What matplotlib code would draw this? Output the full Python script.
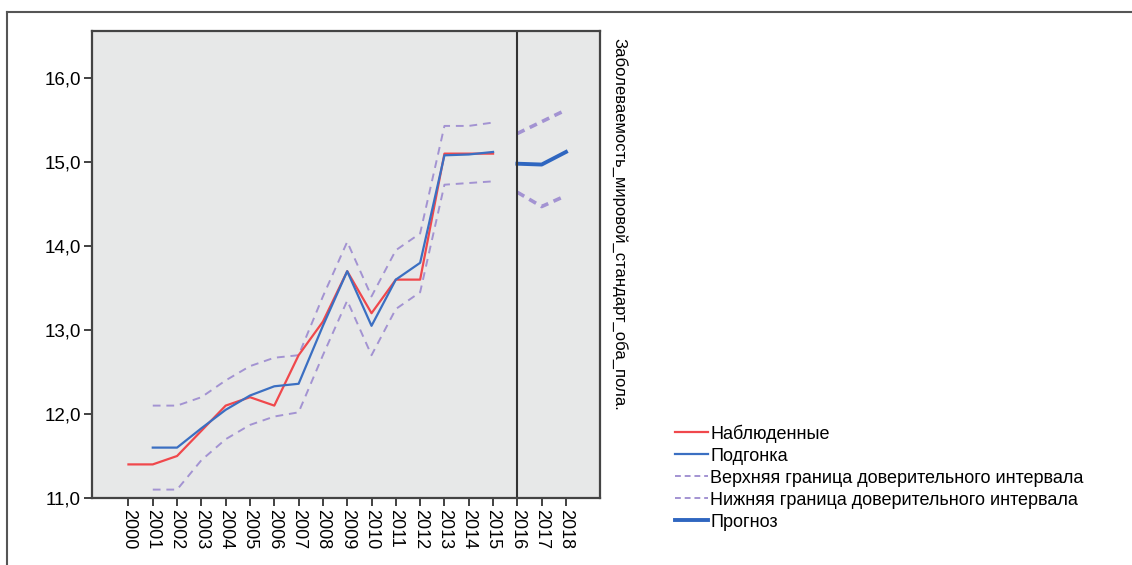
import matplotlib.pyplot as plt
from matplotlib.lines import Line2D

plt.rcParams['font.family'] = ['Liberation Sans', 'DejaVu Sans']

# годы наблюдений
years_obs = [2000, 2001, 2002, 2003, 2004, 2005, 2006, 2007, 2008,
             2009, 2010, 2011, 2012, 2013, 2014, 2015]
observed = [11.4, 11.4, 11.5, 11.8, 12.1, 12.2, 12.1, 12.7, 13.1,
            13.7, 13.2, 13.6, 13.6, 15.1, 15.1, 15.1]

# подгонка и доверительный интервал (2001-2015)
years_fit = [2001, 2002, 2003, 2004, 2005, 2006, 2007, 2008,
             2009, 2010, 2011, 2012, 2013, 2014, 2015]
fitted = [11.6, 11.6, 11.83, 12.05, 12.22, 12.33, 12.36, 13.05,
          13.7, 13.05, 13.6, 13.8, 15.08, 15.09, 15.12]
upper_fit = [12.1, 12.1, 12.2, 12.4, 12.57, 12.67, 12.7, 13.4,
             14.05, 13.4, 13.95, 14.15, 15.43, 15.43, 15.47]
lower_fit = [11.1, 11.1, 11.45, 11.7, 11.87, 11.97, 12.02, 12.7,
             13.35, 12.7, 13.25, 13.45, 14.73, 14.75, 14.77]

# прогноз
years_fc = [2016, 2017, 2018]
forecast = [14.98, 14.97, 15.12]
upper_fc = [15.34, 15.48, 15.62]
lower_fc = [14.64, 14.47, 14.6]

tick_years = list(range(2000, 2019))
y_ticks = [11.0, 12.0, 13.0, 14.0, 15.0, 16.0]

c_obs = '#f0484c'
c_fit = '#3b6fc2'
c_ci = '#a393d2'
c_fc = '#2f66c0'

fig = plt.figure(figsize=(11.32, 5.65), dpi=100)
ax = fig.add_axes([92/1132, 1 - 498/565, 508/1132, 467/565])
ax.set_facecolor('#e7e8e8')

ax.plot(years_fit, upper_fit, color=c_ci, lw=1.4, ls=(0, (4, 3)))
ax.plot(years_fit, lower_fit, color=c_ci, lw=1.4, ls=(0, (4, 3)))
ax.plot(years_obs, observed, color=c_obs, lw=1.6)
ax.plot(years_fit, fitted, color=c_fit, lw=1.6)

ax.plot(years_fc, upper_fc, color=c_ci, lw=2.6, ls=(0, (2.2, 1.6)))
ax.plot(years_fc, lower_fc, color=c_ci, lw=2.6, ls=(0, (2.2, 1.6)))
ax.plot(years_fc, forecast, color=c_fc, lw=2.8)

ax.axvline(2016, color='#333333', lw=1.5)

ax.set_xlim(1998.5, 2019.4)
ax.set_ylim(11.0, 16.56)
ax.set_xticks(tick_years)
ax.set_xticklabels([str(y) for y in tick_years], rotation=270, fontsize=13)
ax.set_yticks(y_ticks)
ax.set_yticklabels([f'{v:.1f}'.replace('.', ',') for v in y_ticks], fontsize=13.5)
ax.tick_params(direction='out', length=6, width=1.3, color='#333333', pad=2)

for s in ax.spines.values():
    s.set_color('#444444')
    s.set_linewidth(1.6)

ax.yaxis.set_label_position('right')
ax.set_ylabel('Заболеваемость_мировой_стандарт_оба_пола.', rotation=270,
              fontsize=12, labelpad=8, va='bottom')
ax.yaxis.label.set_position((1, 0.585))

handles = [
    Line2D([], [], color=c_obs, lw=1.6),
    Line2D([], [], color=c_fit, lw=1.6),
    Line2D([], [], color=c_ci, lw=1.4, ls=(0, (3, 2))),
    Line2D([], [], color=c_ci, lw=1.4, ls=(0, (3, 2))),
    Line2D([], [], color=c_fc, lw=2.8),
]
labels = ['Наблюденные', 'Подгонка', 'Верхняя граница доверительного интервала',
          'Нижняя граница доверительного интервала', 'Прогноз']
fig.legend(handles, labels, loc='upper left', bbox_to_anchor=(668/1132, 1 - 417/565),
           frameon=False, fontsize=13, handlelength=1.8, handletextpad=0.15,
           labelspacing=0.28, borderaxespad=0)

# рамка рисунка
fig.add_artist(Line2D([7/1132, 7/1132], [0, 1 - 12/565], color='#555555', lw=1.5))
fig.add_artist(Line2D([7/1132, 1], [1 - 12/565, 1 - 12/565], color='#555555', lw=1.5))

fig.savefig('out.png', dpi=100)
